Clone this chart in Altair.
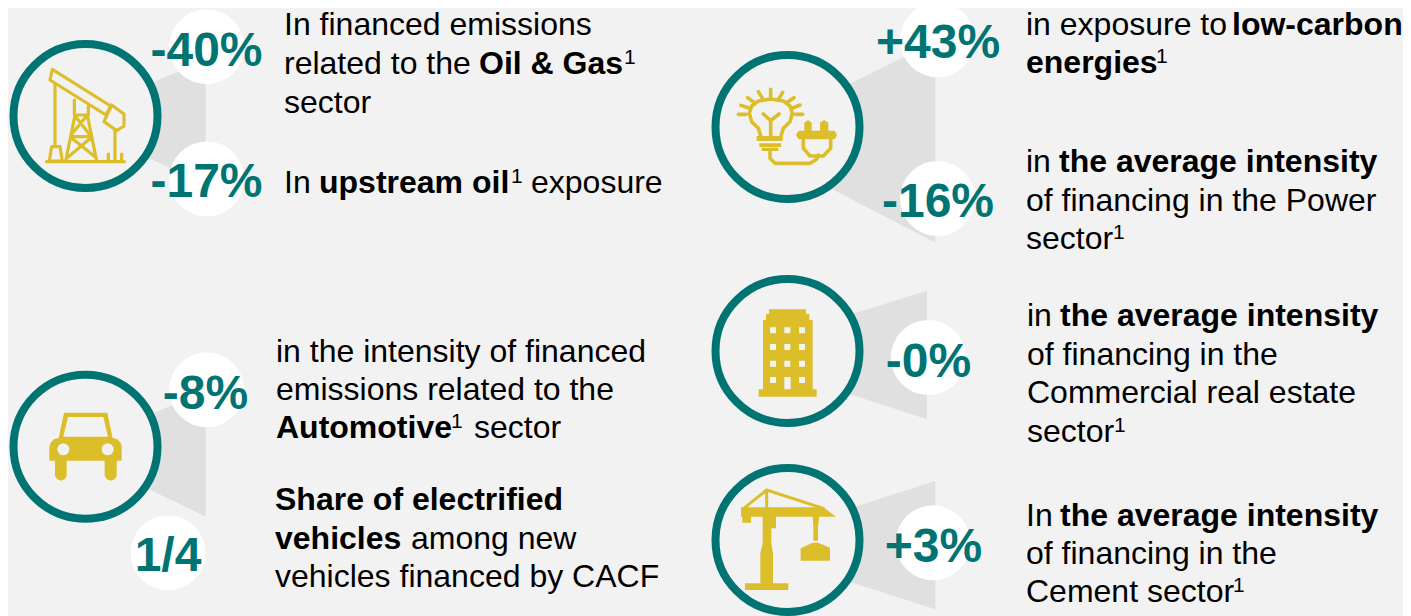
import altair as alt
import pandas as pd

BG = "#f2f2f2"; TEAL = "#007473"; GOLD = "#dbbe2a"; CONE = "#e0e0e0"; INK = "#000000"
FONT = "Liberation Sans"

# ---------- headline figures
stat_labels = ["-40%", "-17%", "-8%", "1/4", "+43%", "-16%", "-0%", "+3%"]
stat_x = [206.5, 206.5, 205.5, 168, 938, 938, 928.5, 933.5]
stat_y = [66, 196.5, 409, 571, 57.5, 216.5, 376.5, 561.5]
disc_x = [206.7, 206.7, 206.7, 168, 937.5, 937.5, 928.3, 933]
disc_y = [46.7, 179, 389.8, 552.8, 39.8, 198.5, 357.5, 542.8]

# ---------- icon rings
ring_x = [85.5, 85.5, 787.5, 787.5, 787.5]
ring_y = [116, 446.7, 127, 351, 540]

# ---------- cones (group, x, top, bottom)
cone_group = ["oil", "oil", "car", "car", "power", "power", "estate", "estate", "cement", "cement"]
cone_x = [130, 205.7, 130, 205.7, 830, 935.3, 830, 927, 830, 935.3]
cone_top = [92, 60, 423, 391, 93.5, 41.5, 320.7, 290.7, 514.8, 481]
cone_bot = [149, 185, 480, 516.7, 188, 242.7, 387.7, 419.3, 575.5, 609.3]

# ---------- body text runs: (x, baseline, text)
regular_runs = [
    (284, 35, "In financed emissions"), (284, 74, "related to the"), (284, 113, "sector"),
    (284, 193, "In"), (531, 193, "exposure"),
    (276, 362, "in the intensity of financed"), (276, 400, "emissions related to the"), (474, 438, "sector"),
    (411, 549, "among new"), (275, 587, "vehicles financed by CACF"),
    (1026, 35, "in exposure to"),
    (1026, 172, "in"), (1026, 211, "of financing in the Power"), (1026, 249, "sector"),
    (1027, 326, "in"), (1027, 365, "of financing in the"), (1027, 403, "Commercial real estate"), (1027, 442, "sector"),
    (1026, 526, "In"), (1026, 564, "of financing in the"), (1026, 602, "Cement sector"),
]
bold_runs = [
    (479, 74, "Oil & Gas"), (319, 193, "upstream oil"), (276, 438, "Automotive"),
    (275, 510, "Share of electrified"), (275, 549, "vehicles"),
    (1232, 35, "low-carbon"), (1026, 73, "energies"),
    (1059, 172, "the average intensity"), (1060, 326, "the average intensity"), (1060, 526, "the average intensity"),
]
note_runs = [
    (624, 64, "1"), (511, 183, "1"), (451, 428, "1"), (1156, 63, "1"),
    (1113, 239, "1"), (1114, 432, "1"), (1233, 592, "1"),
]


# ---------- icon outlines, traced at 3x from the reference
def circle(cx, cy, r, n=20):
    import math
    return [(cx + r * math.cos(2 * math.pi * i / n), cy + r * math.sin(2 * math.pi * i / n)) for i in range(n)]


def rect(x0, y0, x1, y1):
    return [(x0, y0), (x1, y0), (x1, y1), (x0, y1)]


def to_path(shapes, ox, oy, cx, cy, closed):
    out = []
    for pts in shapes:
        seg = "M" + "L".join(f"{ox + px / 3 - cx:.2f},{oy + py / 3 - cy:.2f}" for px, py in pts)
        out.append(seg + ("Z" if closed else ""))
    return "".join(out)


car_fill = [
    [(192, 218), (322, 218), (338, 295), (176, 295)],
    [(148, 322), (152, 308), (162, 298), (176, 293), (338, 293), (352, 298), (362, 308), (365, 322), (365, 362), (148, 362)],
    [(165, 360), (200, 360), (200, 408), (194, 418), (183, 422), (172, 418), (165, 408)],
    [(314, 360), (350, 360), (350, 408), (344, 418), (332, 422), (321, 418), (314, 408)],
]
car_holes = [[(204, 231), (310, 231), (324, 290), (190, 290)], circle(190, 328, 18), circle(323, 328, 18)]

oil_lines = [
    [(157, 208), (332, 318), (318, 345), (150, 240), (157, 208)],
    [(335, 315), (372, 342), (372, 378), (350, 392), (312, 365), (335, 315)],
    [(165, 250), (165, 440)], [(155, 440), (180, 440), (187, 483), (148, 483), (155, 440)],
    [(223, 300), (223, 345)], [(265, 320), (265, 345)], [(225, 345), (197, 483)], [(262, 345), (290, 483)],
    [(225, 345), (262, 345)], [(227, 350), (270, 405)], [(258, 350), (213, 405)], [(213, 410), (275, 410)],
    [(212, 412), (285, 470)], [(275, 412), (200, 475)],
    [(140, 485), (373, 485)], [(345, 392), (345, 483)], [(325, 462), (325, 483)], [(365, 462), (365, 483)],
]

bulb_lines = [
    [(115, 343), (138, 343)], [(123, 316), (146, 324)], [(143, 293), (160, 306)], [(175, 275), (186, 293)],
    [(212, 268), (212, 290)], [(248, 277), (238, 294)], [(282, 293), (263, 306)], [(300, 315), (278, 324)],
    [(308, 343), (285, 343)],
    [(182, 408), (175, 385), (155, 365), (148, 340), (155, 318), (175, 303), (212, 297), (250, 303), (270, 318),
     (277, 340), (270, 365), (250, 385), (243, 408)],
    [(190, 342), (212, 362), (237, 342)], [(212, 362), (212, 408)],
    [(210, 455), (210, 475), (225, 490), (330, 490), (350, 478), (355, 465)],
    [(310, 418), (310, 445), (330, 468), (370, 468), (392, 445), (392, 418)],
]
bulb_fill = [
    rect(170, 408, 248, 423), rect(178, 430, 243, 441), rect(185, 443, 235, 453),
    [(296, 392), (404, 392), (411, 405), (404, 418), (296, 418), (288, 405)],
    [(313, 395), (313, 368), (324, 360), (335, 368), (335, 395)],
    [(360, 395), (360, 368), (372, 360), (385, 368), (385, 395)],
]

tower_fill = [[(207, 148), (318, 148), (318, 162), (328, 162), (328, 180), (338, 180), (338, 388), (350, 388),
               (350, 410), (176, 410), (176, 388), (189, 388), (189, 180), (198, 180), (198, 162), (207, 162)]]
tower_holes = [rect(x, y, x + 18, y + 18) for y in (202, 252, 302) for x in (210, 253, 297)]
tower_holes += [rect(210, 351, 228, 369), rect(297, 351, 315, 369), rect(253, 351, 272, 388)]

crane_fill = [
    [(123, 172), (370, 172), (408, 200), (153, 200), (153, 218), (127, 218), (127, 200), (123, 200)],
    [(188, 198), (228, 198), (228, 235), (214, 235), (214, 280), (219, 310), (219, 400), (265, 400), (265, 420),
     (135, 420), (135, 400), (181, 400), (181, 310), (188, 280)],
    [(338, 198), (358, 198), (354, 230), (354, 272), (340, 272), (340, 230)],
    [(302, 295), (338, 278), (354, 278), (390, 293), (390, 332), (302, 332)],
]
crane_lines = [[(135, 172), (200, 120), (370, 175)], [(200, 120), (200, 172)]]

icons = [
    # ring index, zoom origin x, y, fill, holes, lines, line width
    (0, 0, 0, [], [], oil_lines, 3.2),
    (1, 0, 340, car_fill, car_holes, [], 3),
    (2, 700, 0, bulb_fill, [], bulb_lines, 3.6),
    (3, 700, 260, tower_fill, tower_holes, [], 3),
    (4, 700, 450, crane_fill, [], crane_lines, 3),
]

fills, holes, lines = [], [], []
for i, ox, oy, f, h, l, w in icons:
    row = {"x": ring_x[i], "y": ring_y[i]}
    if f:
        fills.append({**row, "d": to_path(f, ox, oy, row["x"], row["y"], True)})
    if h:
        holes.append({**row, "d": to_path(h, ox, oy, row["x"], row["y"], True)})
    if l:
        lines.append({**row, "d": to_path(l, ox, oy, row["x"], row["y"], False), "w": w})

# ---------- 1:1 page scales
X = alt.X("x:Q", scale=alt.Scale(domain=[8, 1403], nice=False, zero=False), axis=None)
Y = alt.Y("y:Q", scale=alt.Scale(domain=[616, 8], nice=False, zero=False), axis=None)


def text_layer(runs, size, color=INK, weight="normal"):
    df = pd.DataFrame(runs, columns=["x", "y", "t"])
    return alt.Chart(df).mark_text(align="left", baseline="alphabetic", font=FONT, fontSize=size,
                                   fontWeight=weight, color=color).encode(x=X, y=Y, text="t:N")


cones = alt.Chart(pd.DataFrame({"g": cone_group, "x": cone_x, "y": cone_top, "y2": cone_bot})).mark_area(
    color=CONE, opacity=1, interpolate="linear").encode(x=X, y=Y, y2="y2:Q", detail="g:N")
rings = alt.Chart(pd.DataFrame({"x": ring_x, "y": ring_y})).mark_point(
    shape="circle", filled=False, fill=BG, stroke=TEAL, strokeWidth=8, size=144 * 144, opacity=1).encode(x=X, y=Y)
discs = alt.Chart(pd.DataFrame({"x": disc_x, "y": disc_y})).mark_point(
    shape="circle", filled=True, fill="#ffffff", strokeWidth=0, size=75 * 75, opacity=1).encode(x=X, y=Y)
icon_fill = alt.Chart(pd.DataFrame(fills)).mark_point(filled=True, fill=GOLD, strokeWidth=0, size=4, opacity=1).encode(
    x=X, y=Y, shape=alt.Shape("d:N", scale=None))
icon_holes = alt.Chart(pd.DataFrame(holes)).mark_point(filled=True, fill=BG, strokeWidth=0, size=4, opacity=1).encode(
    x=X, y=Y, shape=alt.Shape("d:N", scale=None))
icon_lines = alt.Chart(pd.DataFrame(lines)).mark_point(filled=False, stroke=GOLD, size=4, opacity=1,
                                                       strokeCap="round", strokeJoin="round").encode(
    x=X, y=Y, shape=alt.Shape("d:N", scale=None), strokeWidth=alt.StrokeWidth("w:Q", scale=None))
stats = alt.Chart(pd.DataFrame({"x": stat_x, "y": stat_y, "t": stat_labels})).mark_text(
    align="center", baseline="alphabetic", font=FONT, fontSize=48, fontWeight="bold", color=TEAL).encode(
    x=X, y=Y, text="t:N")

chart = alt.layer(
    cones, rings, discs, icon_fill, icon_holes, icon_lines, stats,
    text_layer(regular_runs, 32), text_layer(bold_runs, 32, weight="bold"), text_layer(note_runs, 21),
).properties(width=1395, height=608, padding=0, background=BG,
             autosize=alt.AutoSizeParams(type="none")).configure_view(stroke=None)

chart.save("out.html", embed_options={"renderer": "svg", "actions": False})
